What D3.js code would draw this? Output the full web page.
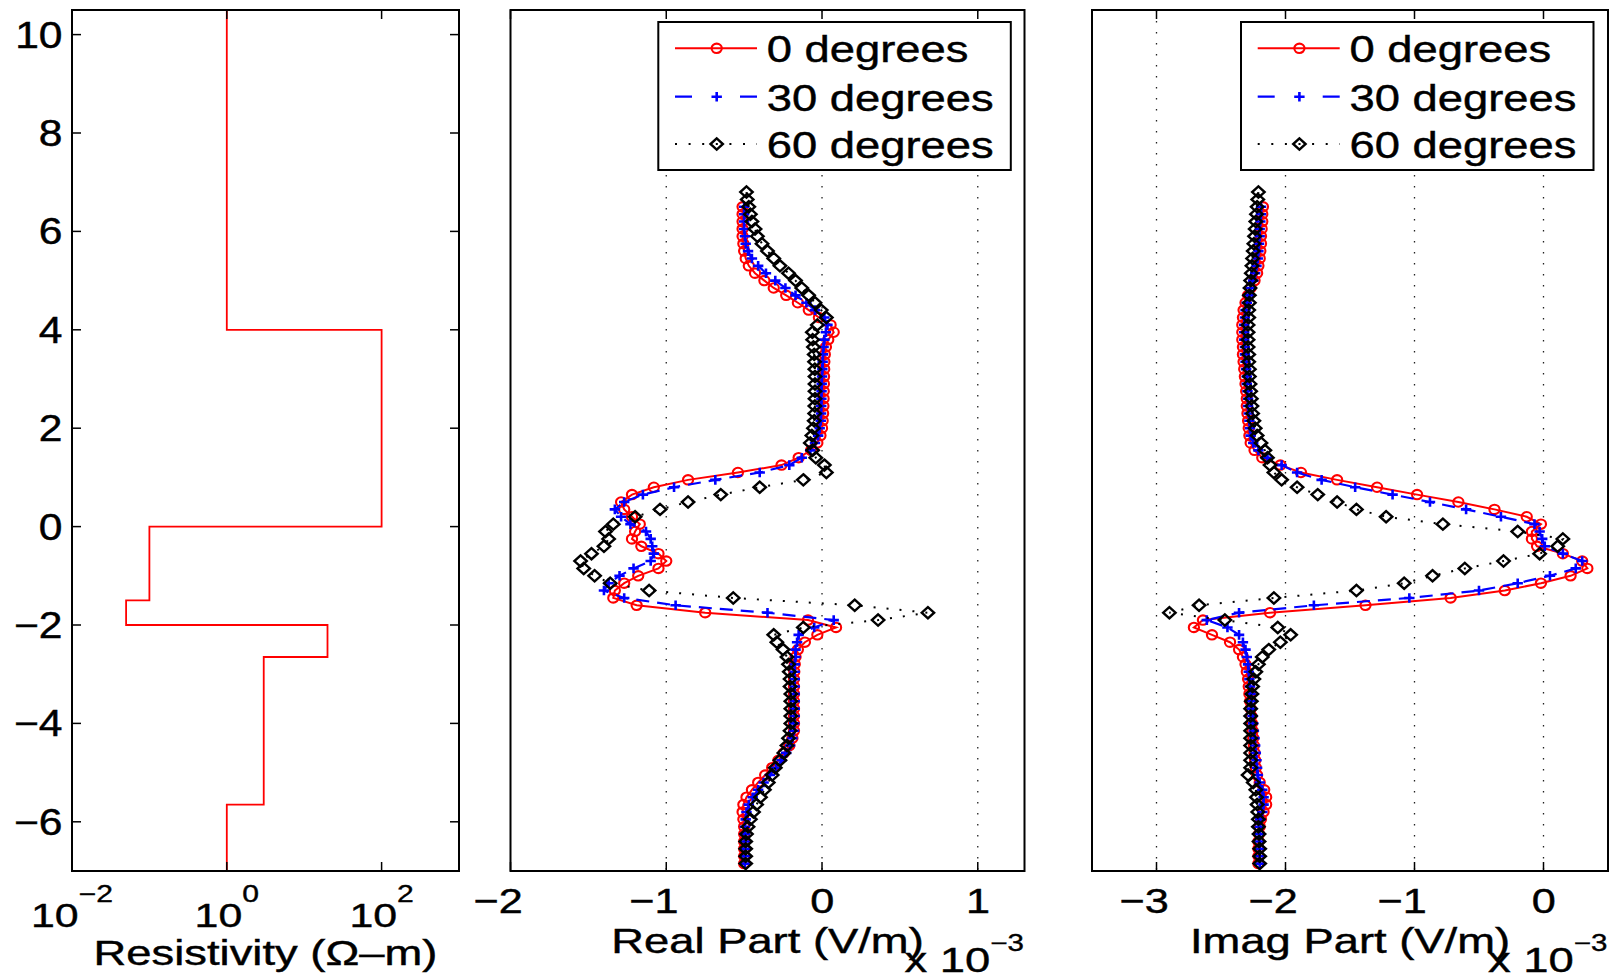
<!DOCTYPE html>
<html><head><meta charset="utf-8">
<script src="https://cdn.jsdelivr.net/npm/d3@7/dist/d3.min.js"></script>
<style>body{margin:0;background:#fff}svg{display:block}</style>
</head><body>
<svg id="chart" width="1612" height="976"></svg>
<script>
// ---------------- DATA ----------------
// Resistivity model: layer boundaries (depth) and resistivity of each layer (Ohm-m)
const resDepth = [10.5, 4, 0, -1.5, -2, -2.65, -5.65, -7];
const resValue = [1, 100, 0.1, 0.05, 20, 3, 1];

// Depth samples for 0 and 30 degree curves
const depthA = [6.5, 6.35, 6.2, 6.05, 5.9, 5.75, 5.6, 5.45, 5.3, 5.15,
  5.0, 4.85, 4.7, 4.55, 4.4, 4.25, 4.1, 3.95, 3.8, 3.65,
  3.5, 3.35, 3.2, 3.05, 2.9, 2.75, 2.6, 2.45, 2.3, 2.15,
  2.0, 1.85, 1.7, 1.55, 1.4, 1.25, 1.1, 0.95, 0.8, 0.65,
  0.5, 0.35, 0.2, 0.05, -0.1, -0.25, -0.4, -0.55, -0.7, -0.85,
  -1.0, -1.15, -1.3, -1.45, -1.6, -1.75, -1.9, -2.05, -2.2, -2.35,
  -2.5, -2.65, -2.8, -2.95, -3.1, -3.25, -3.4, -3.55, -3.7, -3.85,
  -4.0, -4.15, -4.3, -4.45, -4.6, -4.75, -4.9, -5.05, -5.2, -5.35,
  -5.5, -5.65, -5.8, -5.95, -6.1, -6.25, -6.4, -6.55, -6.7, -6.85];
// Depth samples for 60 degree curve
const depthB = [6.8, 6.65,
  6.5, 6.35, 6.2, 6.05, 5.9, 5.75, 5.6, 5.45, 5.3, 5.15,
  5.0, 4.85, 4.7, 4.55, 4.4, 4.25, 4.1, 3.95, 3.8, 3.65,
  3.5, 3.35, 3.2, 3.05, 2.9, 2.75, 2.6, 2.45, 2.3, 2.15,
  2.0, 1.85, 1.7, 1.55, 1.4, 1.25, 1.1, 0.95, 0.8, 0.65,
  0.5, 0.35, 0.2, 0.05, -0.1, -0.25, -0.4, -0.55, -0.7, -0.85,
  -1.0, -1.15, -1.3, -1.45, -1.6, -1.75, -1.9, -2.05, -2.2, -2.35,
  -2.5, -2.65, -2.8, -2.95, -3.1, -3.25, -3.4, -3.55, -3.7, -3.85,
  -4.0, -4.15, -4.3, -4.45, -4.6, -4.75, -4.9, -5.05, -5.2, -5.35,
  -5.5, -5.65, -5.8, -5.95, -6.1, -6.25, -6.4, -6.55, -6.7, -6.85];

// Real part (x 1e-3 V/m)
const real0 = [-0.51, -0.51, -0.51, -0.51, -0.51, -0.505, -0.50, -0.49, -0.47, -0.43,
  -0.37, -0.31, -0.23, -0.155, -0.085, -0.02, 0.055, 0.075, 0.04, 0.025,
  0.018, 0.015, 0.014, 0.013, 0.012, 0.011, 0.01, 0.009, 0.007, 0.004,
  0.0, -0.01, -0.03, -0.07, -0.15, -0.26, -0.54, -0.86, -1.08, -1.22,
  -1.29, -1.27, -1.22, -1.17, -1.20, -1.22, -1.16, -1.05, -1.0, -1.05,
  -1.18, -1.27, -1.33, -1.34, -1.19, -0.75, -0.09, 0.09, -0.03, -0.11,
  -0.155, -0.17, -0.175, -0.178, -0.18, -0.18, -0.18, -0.18, -0.18, -0.18,
  -0.18, -0.18, -0.19, -0.21, -0.245, -0.28, -0.32, -0.365, -0.41, -0.45,
  -0.485, -0.505, -0.51, -0.505, -0.5, -0.5, -0.5, -0.5, -0.5, -0.5];
const real30 = [-0.50, -0.50, -0.50, -0.50, -0.495, -0.49, -0.475, -0.45, -0.41, -0.36,
  -0.30, -0.235, -0.17, -0.10, -0.045, 0.015, 0.035, 0.025, 0.015, 0.01,
  0.006, 0.004, 0.002, 0.0, -0.002, -0.003, -0.004, -0.005, -0.006, -0.008,
  -0.015, -0.025, -0.045, -0.075, -0.13, -0.21, -0.40, -0.685, -0.95, -1.15,
  -1.27, -1.33, -1.29, -1.23, -1.13, -1.10, -1.09, -1.08, -1.10, -1.21,
  -1.30, -1.37, -1.40, -1.27, -0.94, -0.35, 0.075, -0.05, -0.15, -0.16,
  -0.17, -0.17, -0.175, -0.175, -0.175, -0.175, -0.175, -0.175, -0.175, -0.175,
  -0.178, -0.18, -0.19, -0.205, -0.23, -0.26, -0.295, -0.335, -0.375, -0.41,
  -0.445, -0.47, -0.485, -0.49, -0.495, -0.495, -0.495, -0.495, -0.495, -0.495];
const real60 = [-0.485, -0.48,
  -0.47, -0.46, -0.45, -0.43, -0.415, -0.385, -0.35, -0.31, -0.27, -0.215,
  -0.17, -0.13, -0.086, -0.045, -0.005, 0.028, -0.03, -0.062, -0.06, -0.055,
  -0.05, -0.048, -0.046, -0.045, -0.045, -0.045, -0.045, -0.046, -0.047, -0.05,
  -0.055, -0.065, -0.075, -0.06, -0.04, 0.015, 0.028, -0.12, -0.40, -0.65,
  -0.86, -1.04, -1.20, -1.34, -1.39, -1.37, -1.40, -1.48, -1.55, -1.53,
  -1.46, -1.36, -1.11, -0.57, 0.21, 0.68, 0.36, -0.12, -0.31, -0.29,
  -0.25, -0.225, -0.215, -0.21, -0.205, -0.205, -0.2, -0.2, -0.2, -0.2,
  -0.2, -0.205, -0.215, -0.225, -0.245, -0.27, -0.30, -0.32, -0.345, -0.37,
  -0.395, -0.42, -0.44, -0.46, -0.475, -0.485, -0.49, -0.49, -0.49, -0.49];

// Imaginary part (x 1e-3 V/m)
const imag0 = [-2.175, -2.18, -2.18, -2.185, -2.19, -2.19, -2.195, -2.20, -2.21, -2.22,
  -2.24, -2.27, -2.29, -2.31, -2.325, -2.33, -2.335, -2.335, -2.335, -2.33,
  -2.33, -2.325, -2.32, -2.315, -2.31, -2.305, -2.30, -2.30, -2.295, -2.29,
  -2.285, -2.28, -2.27, -2.24, -2.18, -2.04, -1.88, -1.60, -1.29, -0.98,
  -0.66, -0.38, -0.13, -0.02, -0.09, -0.09, -0.05, 0.15, 0.30, 0.34,
  0.21, -0.02, -0.30, -0.72, -1.38, -2.12, -2.64, -2.71, -2.57, -2.43,
  -2.36, -2.33, -2.31, -2.30, -2.29, -2.285, -2.28, -2.275, -2.27, -2.265,
  -2.26, -2.255, -2.25, -2.245, -2.24, -2.235, -2.23, -2.22, -2.20, -2.165,
  -2.15, -2.15, -2.17, -2.19, -2.20, -2.205, -2.21, -2.21, -2.21, -2.21];
const imag30 = [-2.19, -2.19, -2.195, -2.20, -2.20, -2.205, -2.21, -2.215, -2.225, -2.235,
  -2.25, -2.27, -2.285, -2.30, -2.31, -2.315, -2.32, -2.32, -2.32, -2.315,
  -2.315, -2.31, -2.305, -2.30, -2.30, -2.295, -2.29, -2.29, -2.285, -2.28,
  -2.275, -2.27, -2.25, -2.21, -2.14, -2.03, -1.91, -1.72, -1.46, -1.17,
  -0.88, -0.60, -0.33, -0.07, -0.03, -0.01, 0.01, 0.15, 0.30, 0.25,
  0.05, -0.20, -0.50, -1.04, -1.78, -2.36, -2.61, -2.45, -2.36, -2.33,
  -2.31, -2.30, -2.29, -2.285, -2.28, -2.275, -2.27, -2.265, -2.26, -2.255,
  -2.25, -2.245, -2.24, -2.235, -2.23, -2.225, -2.22, -2.215, -2.20, -2.18,
  -2.17, -2.17, -2.18, -2.195, -2.20, -2.20, -2.20, -2.20, -2.20, -2.20];
const imag60 = [-2.21, -2.215,
  -2.22, -2.225, -2.23, -2.235, -2.24, -2.245, -2.25, -2.255, -2.26, -2.265,
  -2.27, -2.275, -2.28, -2.28, -2.285, -2.285, -2.29, -2.29, -2.29, -2.29,
  -2.285, -2.285, -2.28, -2.28, -2.275, -2.27, -2.265, -2.26, -2.255, -2.245,
  -2.235, -2.22, -2.19, -2.16, -2.14, -2.12, -2.09, -2.03, -1.91, -1.75,
  -1.60, -1.45, -1.22, -0.78, -0.20, 0.15, 0.11, -0.03, -0.31, -0.61,
  -0.86, -1.08, -1.45, -2.09, -2.67, -2.90, -2.47, -2.06, -1.96, -2.04,
  -2.13, -2.18, -2.21, -2.23, -2.245, -2.255, -2.26, -2.265, -2.27, -2.27,
  -2.27, -2.27, -2.27, -2.27, -2.27, -2.27, -2.27, -2.29, -2.25, -2.23,
  -2.225, -2.22, -2.215, -2.21, -2.21, -2.205, -2.205, -2.20, -2.20, -2.20];

const seriesNames = ["0 degrees", "30 degrees", "60 degrees"];
const yTicks = [10, 8, 6, 4, 2, 0, -2, -4, -6];
const resTicks = [1e-2, 1, 1e2];
const resTickExp = ["\u22122", "0", "2"];
const realTicks = [-2, -1, 0, 1];
const imagTicks = [-3, -2, -1, 0];

// ---------------- LAYOUT ----------------
const FONT = "'Liberation Sans', Arial, Helvetica, sans-serif";
const TOP = 10, BOT = 871;
const svg = d3.select("#chart");
const y = d3.scaleLinear().domain([-7, 10.5]).range([BOT, TOP]);
const xRes = d3.scaleLog().domain([1e-2, 1e3]).range([72, 459]);
const xRe = d3.scaleLinear().domain([-2, 1.3]).range([510.5, 1024.5]);
const xIm = d3.scaleLinear().domain([-3.5, 0.5]).range([1092, 1608]);

const fmtNum = v => (v < 0 ? "\u2212" : "") + Math.abs(v);

function stext(g, x, yy, s, o = {}) {
  return g.append("text")
    .attr("transform", `translate(${x},${yy}) scale(${o.sx || 1.25},1)`)
    .attr("text-anchor", o.anchor || "middle")
    .attr("font-family", FONT).attr("font-size", o.size || 36.5)
    .attr("fill", "#000").attr("stroke", "#000").attr("stroke-width", 0.45).text(s);
}

const defs = svg.append("defs");
function clip(id, x0, x1) {
  defs.append("clipPath").attr("id", id).append("rect")
    .attr("x", x0).attr("y", TOP).attr("width", x1 - x0).attr("height", BOT - TOP);
}

function frame(g, x0, x1) {
  g.append("rect").attr("x", x0).attr("y", TOP).attr("width", x1 - x0).attr("height", BOT - TOP)
    .attr("fill", "none").attr("stroke", "#000").attr("stroke-width", 2);
}

function xTickMarks(g, scale, ticks) {
  ticks.forEach(t => {
    const x = scale(t);
    g.append("line").attr("x1", x).attr("x2", x).attr("y1", BOT).attr("y2", BOT - 9)
      .attr("stroke", "#000").attr("stroke-width", 1.5);
    g.append("line").attr("x1", x).attr("x2", x).attr("y1", TOP).attr("y2", TOP + 9)
      .attr("stroke", "#000").attr("stroke-width", 1.5);
  });
}

// marker symbols
const markerStyle = [
  {color: "#ff0000", dash: null, width: 2, draw: (g) => g.append("ellipse").attr("rx", 5.1).attr("ry", 4.7).attr("fill", "none").attr("stroke", "#ff0000").attr("stroke-width", 2.1)},
  {color: "#0000ff", dash: "13,8", width: 2.2, draw: (g) => g.append("path").attr("d", "M-5.2,0H5.2M0,-4.8V4.8").attr("fill", "none").attr("stroke", "#0000ff").attr("stroke-width", 2.6)},
  {color: "#000000", dash: "2,11", width: 2, draw: (g) => g.append("path").attr("d", "M0,-5.6L6.2,0L0,5.6L-6.2,0Z").attr("fill", "none").attr("stroke", "#000").attr("stroke-width", 2.4)}
];

function drawSeries(g, xs, depths, vals, st) {
  const n = Math.min(depths.length, vals.length);
  const pts = d3.range(n).map(i => [xs(vals[i]), y(depths[i])]);
  const line = d3.line();
  const p = g.append("path").attr("d", line(pts)).attr("fill", "none")
    .attr("stroke", st.color).attr("stroke-width", st.width);
  if (st.dash) p.attr("stroke-dasharray", st.dash);
  pts.forEach(q => {
    const mg = g.append("g").attr("transform", `translate(${q[0]},${q[1]})`);
    st.draw(mg);
  });
}

function legend(g, x0, y0) {
  const w = 352.5, h = 148;
  g.append("rect").attr("x", x0).attr("y", y0).attr("width", w).attr("height", h)
    .attr("fill", "#fff").attr("stroke", "#000").attr("stroke-width", 2);
  const rows = [26.3, 74.7, 122];
  const legDash = [null, "17,48,17", "2,11.6"];
  seriesNames.forEach((name, i) => {
    const st = markerStyle[i];
    const cy = y0 + rows[i];
    const l = g.append("line").attr("x1", x0 + 16.7).attr("x2", x0 + 98.7).attr("y1", cy).attr("y2", cy)
      .attr("stroke", st.color).attr("stroke-width", st.width);
    if (legDash[i]) l.attr("stroke-dasharray", legDash[i]);
    const mg = g.append("g").attr("transform", `translate(${x0 + 58.4},${cy})`);
    st.draw(mg);
    stext(g, x0 + 108.4, cy + 14, name, {anchor: "start", size: 37.5, sx: 1.21});
  });
}

// ---------------- LEFT PANEL: resistivity ----------------
clip("clipL", 72, 459);
const gL = svg.append("g");
const resPts = [];
resValue.forEach((v, i) => { resPts.push([xRes(v), y(resDepth[i])]); resPts.push([xRes(v), y(resDepth[i + 1])]); });
gL.append("path").attr("clip-path", "url(#clipL)").attr("d", d3.line()(resPts))
  .attr("fill", "none").attr("stroke", "#ff0000").attr("stroke-width", 1.8);
frame(gL, 72, 459);
yTicks.forEach(t => {
  const yy = y(t);
  gL.append("line").attr("x1", 72).attr("x2", 81).attr("y1", yy).attr("y2", yy).attr("stroke", "#000").attr("stroke-width", 1.5);
  gL.append("line").attr("x1", 459).attr("x2", 450).attr("y1", yy).attr("y2", yy).attr("stroke", "#000").attr("stroke-width", 1.5);
  stext(gL, 62.5, yy + 13, fmtNum(t), {anchor: "end", sx: 1.15, size: 37});
});
xTickMarks(gL, xRes, resTicks);
resTicks.forEach((t, i) => {
  const tx = gL.append("text").attr("transform", `translate(${xRes(t)},926.5) scale(1.28,1)`)
    .attr("text-anchor", "middle").attr("font-family", FONT).attr("fill", "#000")
    .attr("stroke", "#000").attr("stroke-width", 0.4);
  tx.append("tspan").attr("font-size", 33.5).text("10");
  tx.append("tspan").attr("font-size", 23.5).attr("dy", -25).text(resTickExp[i]);
});
stext(gL, 265.5, 965, "Resistivity (\u03A9\u2013m)", {sx: 1.26, size: 36});

// ---------------- MIDDLE & RIGHT PANELS ----------------
function fieldPanel(id, xs, x0, x1, ticks, gridTicks, data, axisLabel, legX) {
  clip(id, x0, x1);
  const g = svg.append("g");
  gridTicks.forEach(t => {
    g.append("line").attr("x1", xs(t)).attr("x2", xs(t)).attr("y1", TOP).attr("y2", BOT)
      .attr("stroke", "#222").attr("stroke-width", 1.3).attr("stroke-dasharray", "1.4,9.6");
  });
  const gd = g.append("g").attr("clip-path", `url(#${id})`);
  drawSeries(gd, xs, depthA, data[0], markerStyle[0]);
  drawSeries(gd, xs, depthA, data[1], markerStyle[1]);
  drawSeries(gd, xs, depthB, data[2], markerStyle[2]);
  frame(g, x0, x1);
  xTickMarks(g, xs, ticks);
  // digit centred on the tick, minus sign hanging to the left
  ticks.forEach(t => stext(g, xs(t) + 12.2, 913, fmtNum(t), {sx: 1.2, size: 36, anchor: "end"}));
  stext(g, (x0 + x1) / 2, 953, axisLabel, {sx: 1.26, size: 36});
  const ex = g.append("text").attr("transform", `translate(${x1 - 120},972) scale(1.28,1)`)
    .attr("text-anchor", "start").attr("font-family", FONT).attr("fill", "#000")
    .attr("stroke", "#000").attr("stroke-width", 0.4);
  ex.append("tspan").attr("font-size", 35.5).text("x 10");
  ex.append("tspan").attr("font-size", 23).attr("dy", -21).text("\u22123");
  legend(g, legX, 22);
}

fieldPanel("clipM", xRe, 510.5, 1024.5, realTicks, [-1, 0, 1], [real0, real30, real60], "Real Part (V/m)", 658.3);
fieldPanel("clipR", xIm, 1092, 1608, imagTicks, [-3, -2, -1, 0], [imag0, imag30, imag60], "Imag Part (V/m)", 1241);
</script>
</body></html>
